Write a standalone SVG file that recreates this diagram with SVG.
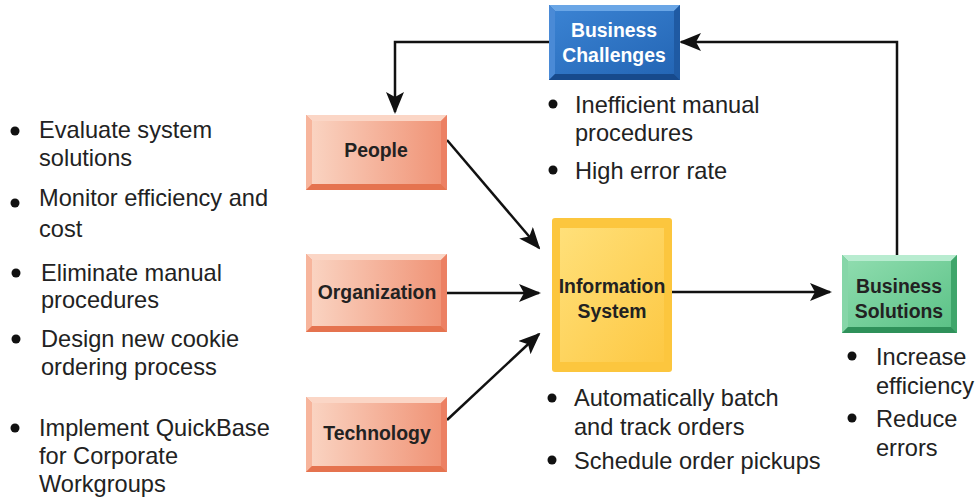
<svg xmlns="http://www.w3.org/2000/svg" width="976" height="498" viewBox="0 0 976 498">
<defs>
<style>
.t{font-family:"Liberation Sans",Arial,sans-serif;font-size:23.6px;fill:#222}
.b{font-family:"Liberation Sans",Arial,sans-serif;font-size:19.4px;font-weight:bold;text-anchor:middle}
.dk{fill:#222}
.wh{fill:#fff}
.c{stroke:#111;stroke-width:2.5;fill:none}
.dot{fill:#111}
</style>
<marker id="ah" markerUnits="userSpaceOnUse" markerWidth="22" markerHeight="18" refX="20" refY="9" orient="auto">
<path d="M0,0 L22,9 L0,18 L5,9 Z" fill="#111"/>
</marker>
<linearGradient id="gRed" x1="0" y1="0" x2="1" y2="0">
<stop offset="0" stop-color="#fad3c1"/>
<stop offset="1" stop-color="#f09477"/>
</linearGradient>
<linearGradient id="gBlue" x1="0" y1="0" x2="1" y2="1">
<stop offset="0" stop-color="#3a82d2"/>
<stop offset="1" stop-color="#2466b5"/>
</linearGradient>
<linearGradient id="gYel" x1="0" y1="0" x2="1" y2="1">
<stop offset="0" stop-color="#ffe07a"/>
<stop offset="1" stop-color="#fdc843"/>
</linearGradient>
<linearGradient id="gGrn" x1="0" y1="0" x2="1" y2="1">
<stop offset="0" stop-color="#8edcae"/>
<stop offset="1" stop-color="#5cc287"/>
</linearGradient>
</defs>
<rect width="976" height="498" fill="#fff"/>

<g id="connectors">
<polyline class="c" points="549,42 395,42 395,112" marker-end="url(#ah)"/>
<polyline class="c" points="897,255 897,42 681,42" marker-end="url(#ah)"/>
<line class="c" x1="447" y1="140" x2="539" y2="248" marker-end="url(#ah)"/>
<line class="c" x1="447" y1="293" x2="539" y2="293" marker-end="url(#ah)"/>
<line class="c" x1="447" y1="420" x2="539" y2="334" marker-end="url(#ah)"/>
<line class="c" x1="672" y1="292" x2="830" y2="292" marker-end="url(#ah)"/>
</g>

<g id="business-challenges">
<rect x="549" y="5" width="131" height="75" fill="#2a6dbd"/>
<polygon points="549,5 680,5 674,11 555,11" fill="#6aa6e6"/>
<polygon points="549,5 555,11 555,74 549,80" fill="#4a8ad6"/>
<polygon points="680,5 680,80 674,74 674,11" fill="#1f5aa3"/>
<polygon points="549,80 680,80 674,74 555,74" fill="#174a8c"/>
<rect x="555" y="11" width="119" height="63" fill="url(#gBlue)"/>
<text class="b wh" x="614" y="37">Business</text>
<text class="b wh" x="614" y="62">Challenges</text>
</g>

<g id="people">
<rect x="306" y="115" width="141" height="75" fill="#f2957a"/>
<polygon points="306,115 447,115 441,121 312,121" fill="#fbd6c6"/>
<polygon points="306,115 312,121 312,184 306,190" fill="#f7b59c"/>
<polygon points="447,115 447,190 441,184 441,121" fill="#ec8063"/>
<polygon points="306,190 447,190 441,184 312,184" fill="#e5734f"/>
<rect x="312" y="121" width="129" height="63" fill="url(#gRed)"/>
<text class="b dk" x="376" y="157">People</text>
</g>

<g id="organization">
<rect x="306" y="254" width="141" height="78" fill="#f2957a"/>
<polygon points="306,254 447,254 441,260 312,260" fill="#fbd6c6"/>
<polygon points="306,254 312,260 312,326 306,332" fill="#f7b59c"/>
<polygon points="447,254 447,332 441,326 441,260" fill="#ec8063"/>
<polygon points="306,332 447,332 441,326 312,326" fill="#e5734f"/>
<rect x="312" y="260" width="129" height="66" fill="url(#gRed)"/>
<text class="b dk" x="377" y="299">Organization</text>
</g>

<g id="technology">
<rect x="306" y="397" width="141" height="75" fill="#f2957a"/>
<polygon points="306,397 447,397 441,403 312,403" fill="#fbd6c6"/>
<polygon points="306,397 312,403 312,466 306,472" fill="#f7b59c"/>
<polygon points="447,397 447,472 441,466 441,403" fill="#ec8063"/>
<polygon points="306,472 447,472 441,466 312,466" fill="#e5734f"/>
<rect x="312" y="403" width="129" height="63" fill="url(#gRed)"/>
<text class="b dk" x="377" y="440">Technology</text>
</g>

<g id="information-system">
<rect x="552" y="218" width="120" height="154" rx="3" fill="#fcc63e"/>
<rect x="560" y="228" width="104" height="134" fill="url(#gYel)"/>
<text class="b dk" x="612" y="293">Information</text>
<text class="b dk" x="612" y="318">System</text>
</g>

<g id="business-solutions">
<rect x="842" y="255" width="115" height="78" fill="#56bb80"/>
<polygon points="842,255 957,255 951,261 848,261" fill="#b8ecd0"/>
<polygon points="842,255 848,261 848,327 842,333" fill="#86d6a8"/>
<polygon points="957,255 957,333 951,327 951,261" fill="#3fa66b"/>
<polygon points="842,333 957,333 951,327 848,327" fill="#2f915a"/>
<rect x="848" y="261" width="103" height="66" fill="url(#gGrn)"/>
<text class="b dk" x="899" y="293">Business</text>
<text class="b dk" x="899" y="318">Solutions</text>
</g>

<g id="people-org-tech-bullets">
<circle class="dot" cx="15" cy="131" r="4.5"/>
<text class="t" x="39" y="138">Evaluate system</text>
<text class="t" x="39" y="166">solutions</text>
<circle class="dot" cx="15" cy="203" r="4.5"/>
<text class="t" x="39" y="206">Monitor efficiency and</text>
<text class="t" x="39" y="237">cost</text>
<circle class="dot" cx="16" cy="273" r="4.5"/>
<text class="t" x="41" y="281">Eliminate manual</text>
<text class="t" x="41" y="308">procedures</text>
<circle class="dot" cx="16" cy="339" r="4.5"/>
<text class="t" x="41" y="347">Design new cookie</text>
<text class="t" x="41" y="375">ordering process</text>
<circle class="dot" cx="15" cy="428" r="4.5"/>
<text class="t" x="39" y="436">Implement QuickBase</text>
<text class="t" x="39" y="464">for Corporate</text>
<text class="t" x="39" y="492">Workgroups</text>
</g>

<g id="challenge-bullets">
<circle class="dot" cx="553" cy="104" r="4.5"/>
<text class="t" x="575" y="113">Inefficient manual</text>
<text class="t" x="575" y="141">procedures</text>
<circle class="dot" cx="553" cy="170" r="4.5"/>
<text class="t" x="575" y="179">High error rate</text>
</g>

<g id="system-bullets">
<circle class="dot" cx="552" cy="398" r="4.5"/>
<text class="t" x="574" y="406">Automatically batch</text>
<text class="t" x="574" y="435">and track orders</text>
<circle class="dot" cx="552" cy="460" r="4.5"/>
<text class="t" x="574" y="469">Schedule order pickups</text>
</g>

<g id="solution-bullets">
<circle class="dot" cx="852" cy="356" r="4.5"/>
<text class="t" x="876" y="365">Increase</text>
<text class="t" x="876" y="394">efficiency</text>
<circle class="dot" cx="852" cy="418" r="4.5"/>
<text class="t" x="876" y="427">Reduce</text>
<text class="t" x="876" y="456">errors</text>
</g>
</svg>
